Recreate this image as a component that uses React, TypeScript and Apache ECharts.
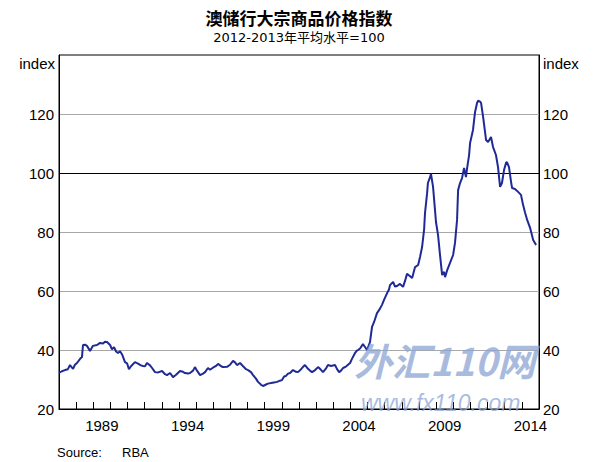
import React, { useEffect, useRef } from "react";
import * as echarts from "echarts";

// Decimal years (x) and index values (y)
const years = [
  1987.0, 1987.17, 1987.35, 1987.52, 1987.64, 1987.82, 1987.93, 1988.05, 1988.23, 1988.34,
  1988.4, 1988.52, 1988.63, 1988.81, 1988.98, 1989.22, 1989.39, 1989.57, 1989.68, 1989.8,
  1989.98, 1990.09, 1990.21, 1990.33, 1990.44, 1990.56, 1990.68, 1990.85, 1990.97, 1991.08,
  1991.2, 1991.43, 1991.61, 1991.78, 1991.9, 1992.02, 1992.13, 1992.31, 1992.43, 1992.6,
  1992.78, 1993.01, 1993.19, 1993.3, 1993.48, 1993.65, 1993.83, 1994.06, 1994.23, 1994.35,
  1994.53, 1994.64, 1994.82, 1994.93, 1995.05, 1995.23, 1995.4, 1995.52, 1995.69, 1995.81,
  1995.98, 1996.16, 1996.28, 1996.46, 1996.57, 1996.8, 1996.98, 1997.15, 1997.27, 1997.38,
  1997.56, 1997.74, 1997.91, 1998.03, 1998.2, 1998.32, 1998.49, 1998.61, 1998.79, 1998.9,
  1999.08, 1999.19, 1999.37, 1999.54, 1999.72, 1999.89, 2000.01, 2000.13, 2000.24, 2000.36,
  2000.48, 2000.65, 2000.83, 2000.94, 2001.12, 2001.24, 2001.35, 2001.47, 2001.64, 2001.76,
  2001.94, 2002.11, 2002.23, 2002.4, 2002.58, 2002.69, 2002.87, 2003.1, 2003.22, 2003.34,
  2003.45, 2003.57, 2003.74, 2003.86, 2003.98, 2004.09, 2004.27, 2004.38, 2004.44, 2004.56,
  2004.73, 2004.85, 2004.97, 2005.14, 2005.26, 2005.38, 2005.55, 2005.67, 2005.84, 2005.96,
  2006.14, 2006.25, 2006.31, 2006.49, 2006.6, 2006.72, 2006.89, 2007.07, 2007.19, 2007.3,
  2007.48, 2007.6, 2007.77, 2007.95, 2008.06, 2008.18, 2008.3, 2008.35, 2008.47, 2008.52,
  2008.64, 2008.7, 2008.82, 2008.94, 2008.99, 2009.11, 2009.23, 2009.35, 2009.46, 2009.52,
  2009.64, 2009.81, 2009.99, 2010.1, 2010.22, 2010.28, 2010.39, 2010.51, 2010.63, 2010.74,
  2010.8, 2010.92, 2010.98, 2011.15, 2011.27, 2011.39, 2011.45, 2011.56, 2011.62, 2011.74,
  2011.85, 2011.91, 2012.03, 2012.2, 2012.32, 2012.49, 2012.61, 2012.73, 2012.84, 2012.96,
  2013.08, 2013.13, 2013.25, 2013.37, 2013.43, 2013.6, 2013.78, 2013.95, 2014.07, 2014.19,
  2014.31, 2014.48, 2014.66, 2014.83,
];

const values = [
  32.2, 32.8, 33.2, 33.5, 34.9, 33.6, 35.0, 35.6, 37.0, 37.6,
  41.7, 41.8, 41.4, 39.7, 41.4, 41.7, 42.4, 42.2, 42.8, 42.7,
  41.7, 40.2, 41.0, 39.5, 39.0, 39.6, 38.5, 35.9, 35.5, 33.5,
  34.5, 35.9, 35.4, 34.8, 34.6, 34.5, 35.6, 34.8, 33.9, 32.5,
  32.4, 32.9, 31.8, 31.5, 32.2, 30.8, 31.6, 32.9, 32.6, 32.2,
  32.0, 32.2, 33.0, 34.2, 33.0, 31.5, 32.0, 32.5, 33.9, 33.3,
  34.0, 34.6, 35.3, 34.5, 34.2, 34.3, 35.0, 36.3, 35.8, 34.9,
  35.6, 34.5, 33.5, 33.2, 32.5, 31.5, 30.3, 29.2, 28.2, 27.8,
  28.3, 28.6, 28.8, 29.0, 29.2, 29.6, 29.8, 31.0, 31.2, 32.0,
  32.2, 33.2, 32.6, 32.5, 33.5, 34.3, 34.9, 34.0, 33.0, 32.5,
  33.2, 34.2, 33.6, 32.5, 33.8, 34.9, 34.6, 34.9, 33.5, 32.5,
  33.0, 33.9, 34.4, 35.0, 35.6, 37.0, 39.0, 39.8, 40.0, 40.5,
  42.0, 41.0, 40.0, 42.7, 47.8, 49.5, 52.5, 53.5, 55.3, 57.0,
  59.3, 60.5, 62.0, 63.1, 61.5, 61.7, 62.4, 61.4, 63.5, 65.8,
  65.0, 64.4, 68.1, 68.8, 71.5, 74.9, 81.0, 86.4, 93.0, 96.6,
  98.5, 99.7, 95.3, 87.0, 83.4, 79.0, 72.0, 65.4, 66.5, 64.7,
  67.0, 69.5, 72.2, 76.3, 84.1, 94.2, 96.5, 98.3, 101.7, 98.6,
  101.4, 106.0, 110.2, 114.6, 120.7, 123.8, 124.5, 124.2, 123.8, 119.0,
  114.0, 111.2, 110.5, 112.2, 108.8, 106.1, 102.0, 95.3, 96.6, 101.0,
  103.5, 103.7, 102.0, 97.0, 94.9, 94.6, 93.6, 92.6, 89.2, 86.5,
  84.1, 81.4, 77.3, 75.6,
];

const yTicks = [20, 40, 60, 80, 100, 120, 140];
const xLabelYears = [1989, 1994, 1999, 2004, 2009, 2014];

const title = "澳储行大宗商品价格指数";
const subtitle = "2012-2013年平均水平=100";
const unitLabel = "index";

export default function App() {
  const ref = useRef<HTMLDivElement>(null);

  useEffect(() => {
    if (!ref.current) return;
    const chart = echarts.init(ref.current, null, { renderer: "svg" });
    const data = years.map((y, i) => [y, values[i]]);
    const labelFont = "'Liberation Sans', Arial, sans-serif";
    const yFmt = (v: number) => (v === yTicks[yTicks.length - 1] ? "" : String(v));

    chart.setOption({
      animation: false,
      backgroundColor: "#ffffff",
      title: [
        {
          text: title,
          left: 294,
          top: 4,
          textAlign: "center",
          textStyle: {
            fontFamily: "'Noto Sans CJK SC', sans-serif",
            fontSize: 17,
            fontWeight: "bold",
            color: "#000",
          },
        },
        {
          text: subtitle,
          left: 294,
          top: 26,
          textAlign: "center",
          textStyle: {
            fontFamily: "'DejaVu Sans', 'Noto Sans CJK SC', sans-serif",
            fontSize: 13,
            fontWeight: "normal",
            color: "#000",
          },
        },
      ],
      grid: {
        left: 59,
        right: 58,
        top: 55,
        bottom: 53,
        show: true,
        borderColor: "#000",
        borderWidth: 1,
        backgroundColor: "transparent",
      },
      xAxis: [
        {
          type: "value",
          min: 1987,
          max: 2015,
          interval: 1,
          position: "bottom",
          axisLine: { show: true, lineStyle: { color: "#000", width: 1 } },
          axisTick: { show: true, inside: true, length: 7, lineStyle: { color: "#000", width: 1 } },
          axisLabel: { show: false },
          splitLine: { show: false },
        },
        {
          type: "value",
          min: 1987,
          max: 2015,
          interval: 0.5,
          position: "bottom",
          axisLine: { show: false },
          axisTick: { show: false },
          splitLine: { show: false },
          axisLabel: {
            show: true,
            margin: 9,
            fontFamily: labelFont,
            fontSize: 15,
            color: "#000",
            formatter: (v: number) => {
              const y = Math.floor(v);
              return Math.abs(v - y - 0.5) < 0.01 && xLabelYears.includes(y) ? String(y) : "";
            },
          },
        },
      ],
      yAxis: [
        {
          type: "value",
          min: 20,
          max: 140,
          interval: 20,
          position: "left",
          axisLine: { show: true, lineStyle: { color: "#000" } },
          axisTick: { show: false },
          axisLabel: { margin: 5, fontFamily: labelFont, fontSize: 15, color: "#000", formatter: yFmt },
          splitLine: {
            show: true,
            showMinLine: false,
            showMaxLine: false,
            lineStyle: { color: "#a8a8a8", width: 1 },
          },
        },
        {
          type: "value",
          min: 20,
          max: 140,
          interval: 20,
          position: "right",
          axisLine: { show: true, lineStyle: { color: "#000" } },
          axisTick: { show: false },
          axisLabel: { margin: 4, fontFamily: labelFont, fontSize: 15, color: "#000", formatter: yFmt },
          splitLine: { show: false },
        },
      ],
      series: [
        {
          type: "line",
          data,
          xAxisIndex: 0,
          yAxisIndex: 0,
          showSymbol: false,
          symbol: "none",
          lineStyle: { color: "#1f2a96", width: 2 },
          z: 3,
          markLine: {
            silent: true,
            symbol: ["none", "none"],
            label: { show: false },
            lineStyle: { color: "#000", width: 1, type: "solid" },
            data: [{ yAxis: 100 }],
            z: 2,
          },
        },
      ],
      graphic: [
        {
          type: "text",
          right: 597 - 55,
          top: 56,
          style: { text: unitLabel, font: `15px ${labelFont}`, fill: "#000", textAlign: "right" },
        },
        {
          type: "text",
          left: 543,
          top: 56,
          style: { text: unitLabel, font: `15px ${labelFont}`, fill: "#000" },
        },
        {
          type: "text",
          left: 57,
          top: 446,
          style: { text: "Source:", font: `13px ${labelFont}`, fill: "#000" },
        },
        {
          type: "text",
          left: 122,
          top: 446,
          style: { text: "RBA", font: `13px ${labelFont}`, fill: "#000" },
        },
        {
          type: "text",
          left: 354,
          top: 340,
          z: 50,
          style: {
            text: "外汇110网",
            font: "italic bold 38px 'Noto Sans CJK SC', sans-serif",
            lineHeight: 36,
            fill: "rgba(140,165,212,0.75)",
          },
        },
        {
          type: "text",
          left: 361,
          top: 391,
          z: 50,
          style: {
            text: "www.fx110.com",
            font: `italic 23px ${labelFont}`,
            lineHeight: 20,
            fill: "rgba(140,165,212,0.75)",
          },
        },
      ],
    });

    return () => chart.dispose();
  }, []);

  return (
    <div
      ref={ref}
      style={{ position: "absolute", left: 0, top: 0, width: 597, height: 462 }}
    />
  );
}
